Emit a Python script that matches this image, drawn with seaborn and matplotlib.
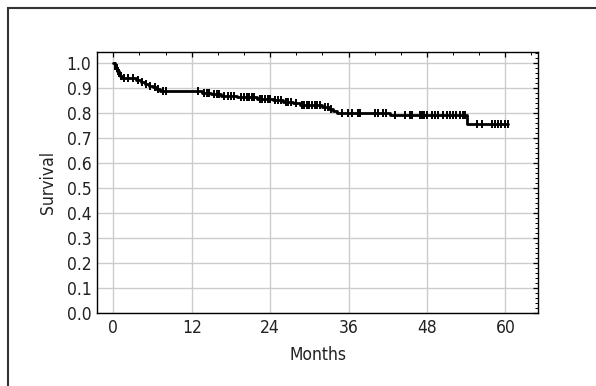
import numpy as np
import pandas as pd
import matplotlib.pyplot as plt
import matplotlib.patches as mpatches
from matplotlib import font_manager
from matplotlib.ticker import MultipleLocator
import seaborn as sns

# Kaplan-Meier curve: step times (months) and survival after each step
step_months = [0.0, 0.2, 0.4, 0.6, 0.8, 1.0, 1.3, 3.5, 4.2, 4.8, 5.4, 6.0, 6.6, 7.2,
               13.5, 15.0, 16.5, 19.0, 22.0, 24.5, 26.0, 27.5, 28.5, 32.0, 33.0,
               33.6, 34.2, 42.4, 54.2, 60.4]
step_survival = [1.0, 0.99, 0.98, 0.97, 0.96, 0.95, 0.94, 0.933, 0.925, 0.918, 0.91,
                 0.903, 0.896, 0.889, 0.882, 0.875, 0.869, 0.863, 0.857, 0.851, 0.845,
                 0.839, 0.833, 0.826, 0.818, 0.81, 0.802, 0.794, 0.756, 0.756]

# censored observations (months)
censored_months = [0.3, 0.5, 0.7, 0.9, 1.1, 1.6, 2.2, 3.0, 3.8, 4.4, 5.0, 5.6, 6.3, 6.9,
                   7.6, 8.0, 13.0, 13.8, 14.3, 14.7, 15.4, 15.8, 16.2, 17.0, 17.5, 18.0,
                   18.5, 19.5, 20.0, 20.4, 20.8, 21.2, 21.6, 22.4, 22.8, 23.2, 23.6, 24.0,
                   24.8, 25.2, 25.6, 26.4, 26.8, 27.2, 28.0, 28.8, 29.2, 29.6, 30.0, 30.4,
                   30.8, 31.2, 31.6, 32.4, 32.8, 33.3, 35.0, 35.9, 36.5, 37.5, 37.8, 40.1,
                   40.5, 41.3, 41.8, 43.1, 44.6, 45.4, 45.7, 46.9, 47.2, 47.5, 48.0, 48.7,
                   49.2, 49.7, 50.5, 51.0, 51.5, 52.0, 52.5, 53.0, 53.5, 53.8, 55.6, 56.4,
                   57.9, 58.4, 58.9, 59.4, 59.9, 60.4]

x_ticks = [0, 12, 24, 36, 48, 60]
y_ticks = [0.0, 0.1, 0.2, 0.3, 0.4, 0.5, 0.6, 0.7, 0.8, 0.9, 1.0]

curve = pd.DataFrame({"Months": step_months, "Survival": step_survival})
idx = np.searchsorted(step_months, censored_months, side="right") - 1
marks = pd.DataFrame({"Months": censored_months,
                      "Survival": np.array(step_survival)[idx]})

sns.set_style("white")

# narrow font if one is around (reference uses a condensed face)
installed = {f.name for f in font_manager.fontManager.ttflist}
condensed = [f for f in font_manager.fontManager.ttflist
             if f.name == "DejaVu Sans" and "ondensed" in str(f.stretch) + f.fname]
if "Liberation Sans Narrow" in installed:
    plt.rcParams["font.family"] = ["Liberation Sans Narrow", "DejaVu Sans"]
    label_size = 13.5
elif condensed:
    plt.rcParams["font.family"] = ["DejaVu Sans"]
    plt.rcParams["font.stretch"] = "condensed"
    label_size = 12.5
else:
    plt.rcParams["font.family"] = ["Liberation Sans", "DejaVu Sans"]
    label_size = 12

plt.rcParams.update({
    "xtick.direction": "in",
    "ytick.direction": "in",
    "xtick.top": True,
    "ytick.right": True,
    "xtick.minor.visible": True,
    "ytick.minor.visible": True,
})

fig = plt.figure(figsize=(5.96, 3.86), dpi=100)
ax = fig.add_axes([0.1628, 0.1891, 0.9027 - 0.1628, 0.8653 - 0.1891])

# outer frame of the figure panel
fig.patches.append(mpatches.Rectangle((0.0134, -0.1), 1.2, 0.979 + 0.1, fill=False,
                                      edgecolor="#333333", linewidth=1.5,
                                      transform=fig.transFigure, zorder=0))

sns.lineplot(data=curve, x="Months", y="Survival", ax=ax, drawstyle="steps-post",
             estimator=None, sort=False, color="black", linewidth=2.0)
sns.scatterplot(data=marks, x="Months", y="Survival", ax=ax, marker="|", s=40,
                linewidth=1.4, color="black", zorder=3)

ax.set_xlim(-2.5, 65)
ax.set_ylim(0, 1.045)
ax.set_xticks(x_ticks)
ax.set_yticks(y_ticks)
ax.set_yticklabels([f"{v:.1f}" for v in y_ticks])
ax.xaxis.set_minor_locator(MultipleLocator(4))
ax.yaxis.set_minor_locator(MultipleLocator(0.02))
ax.tick_params(which="major", length=3.5, width=0.9, color="black",
               labelsize=label_size, labelcolor="#222222", pad=4)
ax.tick_params(which="minor", length=2, width=0.7, color="black")
ax.grid(True, which="major", color="#cccccc", linewidth=1.0)
for s in ax.spines.values():
    s.set_color("black")
    s.set_linewidth(1.0)
ax.set_xlabel("Months", fontsize=label_size, labelpad=7, color="#222222")
ax.set_ylabel("Survival", fontsize=label_size, labelpad=7, color="#222222")

fig.savefig("out.png", dpi=100)
